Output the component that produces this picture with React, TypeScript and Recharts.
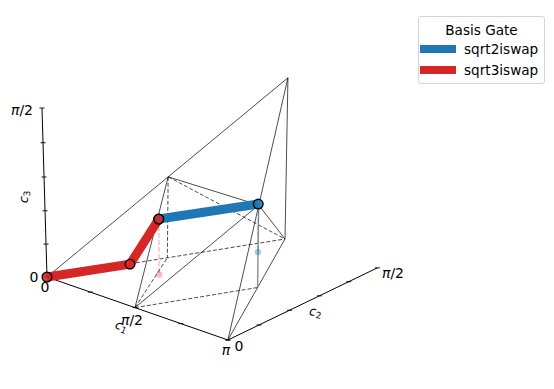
import React from "react";
import { ComposedChart, Line, XAxis, YAxis } from "recharts";

type Vec3 = [number, number, number];

// all coordinates are in units of pi/2: (c1, c2, c3)
const c1Ticks = [0, 0.5, 1, 1.5, 2];
const c2Ticks = [0, 0.2, 0.4, 0.6, 0.8, 1];
const c3Ticks = [0, 0.2, 0.4, 0.6, 0.8, 1];

const gateNames = ["sqrt2iswap", "sqrt3iswap"];
const gateColors = ["#1f77b4", "#d62728"];

const sqrt2Path: Vec3[] = [
  [0.69, 0.335, 0.335],
  [1, 0.81, 0.29],
];
const sqrt3Path: Vec3[] = [
  [0, 0, 0],
  [0.35, 0.34, 0],
  [0.69, 0.335, 0.335],
];
const sqrt2Shadow: Vec3 = [1.01, 0.805, 0];
const sqrt3Shadow: Vec3 = [0.69, 0.335, 0];

// Weyl chamber corners and edge midpoints
const O: Vec3 = [0, 0, 0];
const A: Vec3 = [2, 0, 0];
const B: Vec3 = [1, 0, 0];
const R: Vec3 = [1, 1, 0];
const T: Vec3 = [1, 1, 0.97];
const P: Vec3 = [0.505, 0.505, 0.49];
const Q: Vec3 = [1.5, 0.5, 0.49];
const S: Vec3 = [1.5, 0.5, 0];
const U: Vec3 = [0.5, 0.5, 0];

const solidEdges: Vec3[][] = [
  [O, T],
  [A, T],
  [A, R],
  [T, R],
  [B, P],
  [B, Q],
  [P, Q],
  [Q, R],
];
const dashedEdges: Vec3[][] = [
  [O, R],
  [B, S],
  [B, U],
  [P, U],
  [P, R],
];
const greyEdges: Vec3[][] = [[Q, S]];

// perspective fit of the 3d view onto the page
const project = ([a, b, c]: Vec3) => {
  const d = 1 - 0.0269 * a + 0.05 * b - 0.033 * c;
  return {
    x: 47 + (85.6 * a + 157.9 * b - 4.84 * c) / d,
    y: 277 + (29.8 * a - 68.7 * b - 163.4 * c) / d,
  };
};

const pts = (list: Vec3[]) => list.map(project);

const tickDot = (p: any) => (
  <line key={p.index} x1={p.cx - 2.5} x2={p.cx + 2.5} y1={p.cy} y2={p.cy} stroke="#000" strokeWidth={0.9} />
);

const font = "'DejaVu Sans', sans-serif";

const PiHalf = ({ x, y }: { x: number; y: number }) => (
  <text x={x} y={y} fontFamily={font} fontSize={14} fill="#000" textAnchor="middle">
    <tspan fontStyle="italic">π</tspan>/2
  </text>
);

const Plain = ({ x, y, children }: { x: number; y: number; children: React.ReactNode }) => (
  <text x={x} y={y} fontFamily={font} fontSize={14} fill="#000" textAnchor="middle">
    {children}
  </text>
);

const AxisName = ({ x, y, angle, name, sub }: { x: number; y: number; angle: number; name: string; sub: string }) => (
  <text transform={`translate(${x} ${y}) rotate(${angle})`} fontFamily={font} fontSize={12.5} fill="#000" textAnchor="middle">
    <tspan fontStyle="italic">{name}</tspan>
    <tspan fontSize={9} dy={2}>{sub}</tspan>
  </text>
);

const LegendBox = () => (
  <div
    style={{
      position: "absolute",
      left: 418,
      top: 16,
      width: 125,
      height: 66,
      border: "1px solid #d5d5d5",
      borderRadius: 3,
      background: "#fff",
      fontFamily: font,
      fontSize: 13.6,
      color: "#000",
    }}
  >
    <div style={{ position: "absolute", left: 0, right: 0, top: 5, textAlign: "center" }}>Basis Gate</div>
    {gateNames.map((name, i) => (
      <div key={name}>
        <div
          style={{
            position: "absolute",
            left: 1,
            top: 28 + i * 21,
            width: 36,
            height: 8,
            background: gateColors[i],
          }}
        />
        <div style={{ position: "absolute", left: 45, top: 24 + i * 21 }}>{name}</div>
      </div>
    ))}
  </div>
);

const markerStyle = { stroke: "#000", strokeWidth: 1.4, fillOpacity: 0.88 };
const base = { dataKey: "y", isAnimationActive: false, activeDot: false };

export default function App() {
  return (
    <div style={{ position: "absolute", left: 0, top: 0, width: 554, height: 389, background: "#fff" }}>
      <ComposedChart width={554} height={389} margin={{ top: 0, right: 0, bottom: 0, left: 0 }}>
        <XAxis type="number" dataKey="x" domain={[0, 554]} hide />
        <YAxis type="number" domain={[0, 389]} reversed hide width={0} />

        {/* axes */}
        <Line {...base} data={pts([[0, 0, 0], [2, 0, 0]])} stroke="#000" strokeWidth={1} dot={false} />
        <Line {...base} data={pts([[2, 0, 0], [2, 1, 0]])} stroke="#000" strokeWidth={1} dot={false} />
        <Line {...base} data={pts([[0, 0, 0], [0, 0, 1]])} stroke="#000" strokeWidth={1} dot={false} />
        <Line {...base} data={pts(c1Ticks.map((c): Vec3 => [c, 0, 0]))} stroke="none" dot={tickDot} />
        <Line {...base} data={pts(c2Ticks.map((c): Vec3 => [2, c, 0]))} stroke="none" dot={tickDot} />
        <Line {...base} data={pts(c3Ticks.map((c): Vec3 => [0, 0, c]))} stroke="none" dot={tickDot} />

        {/* chamber wireframe */}
        {solidEdges.map((e, i) => (
          <Line {...base} key={`s${i}`} data={pts(e)} stroke="#000" strokeWidth={0.7} dot={false} />
        ))}
        {dashedEdges.map((e, i) => (
          <Line {...base} key={`d${i}`} data={pts(e)} stroke="#000" strokeWidth={0.7} strokeDasharray="4 2" dot={false} />
        ))}
        {greyEdges.map((e, i) => (
          <Line {...base} key={`g${i}`} data={pts(e)} stroke="#8c8c8c" strokeWidth={1.4} dot={false} />
        ))}

        {/* drop lines and shadows */}
        <Line {...base} data={pts([sqrt3Path[2], sqrt3Shadow])} stroke={gateColors[1]} strokeOpacity={0.3} strokeWidth={1.4} strokeDasharray="5 2" dot={false} />
        <Line {...base} data={pts([sqrt2Path[1], sqrt2Shadow])} stroke={gateColors[0]} strokeOpacity={0.3} strokeWidth={1.4} strokeDasharray="5 2" dot={false} />
        <Line {...base} data={pts([sqrt3Shadow])} stroke="none" dot={{ r: 3.2, fill: gateColors[1], fillOpacity: 0.3, stroke: "none" }} />
        <Line {...base} data={pts([sqrt2Shadow])} stroke="none" dot={{ r: 3.2, fill: gateColors[0], fillOpacity: 0.4, stroke: "none" }} />

        {/* gate paths */}
        <Line {...base} data={pts(sqrt3Path)} stroke={gateColors[1]} strokeWidth={9} strokeLinecap="butt" strokeLinejoin="miter" dot={false} />
        <Line {...base} data={pts(sqrt2Path)} stroke={gateColors[0]} strokeWidth={9} strokeLinecap="butt" dot={false} />
        <Line {...base} data={pts(sqrt2Path)} stroke="none" dot={{ r: 4.8, fill: gateColors[0], ...markerStyle }} />
        <Line {...base} data={pts(sqrt3Path)} stroke="none" dot={{ r: 4.8, fill: gateColors[1], ...markerStyle }} />

        {/* tick labels and axis names */}
        <PiHalf x={22} y={115} />
        <Plain x={34} y={282}>0</Plain>
        <Plain x={45} y={292}>0</Plain>
        <PiHalf x={132} y={325} />
        <text x={226} y={355} fontFamily={font} fontSize={14} fontStyle="italic" fill="#000" textAnchor="middle">π</text>
        <Plain x={239} y={351}>0</Plain>
        <PiHalf x={393} y={278} />
        <AxisName x={28} y={197} angle={-88} name="c" sub="3" />
        <AxisName x={120} y={330} angle={22} name="c" sub="1" />
        <AxisName x={315} y={316} angle={8} name="c" sub="2" />
      </ComposedChart>
      <LegendBox />
    </div>
  );
}
